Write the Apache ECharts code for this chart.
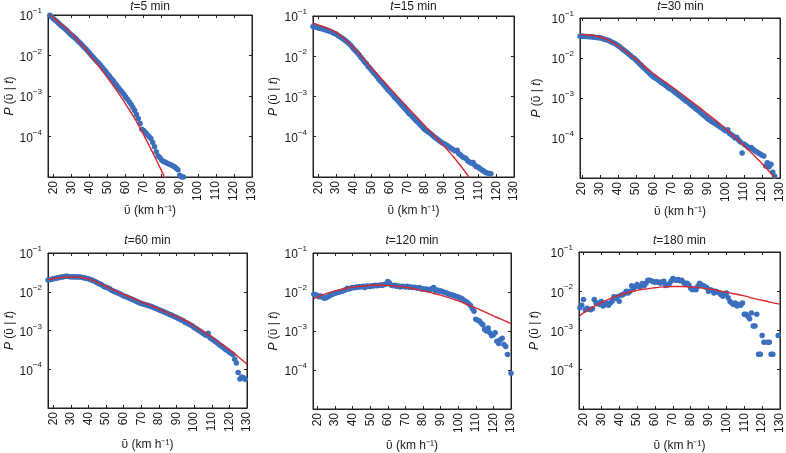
<!DOCTYPE html>
<html><head><meta charset="utf-8">
<script src="https://cdn.jsdelivr.net/npm/echarts@6/dist/echarts.min.js"></script>
<style>html,body{margin:0;padding:0;background:#fff}#c{width:786px;height:453px}</style>
</head><body><div id="c"></div>
<script>
// ---------- data ----------
const titles = ['5', '15', '30', '60', '120', '180'];
const xTicks = [20, 30, 40, 50, 60, 70, 80, 90, 100, 110, 120, 130];
const yTicks = [1e-5, 1e-4, 1e-3, 1e-2, 1e-1];

// t = 5 min
const v5 = [18,19,20,21,22,23,24,25,26,27,28,29,30,31,32,33,34,35,36,37,38,39,40,41,42,43,44,45,46,47,48,49,50,51,52,53,54,55,56,57,58,59,60,61,62,63,64,65,66,67,68,69,70,71,72,73,74,75,76,77,78,79,80,81,82,83,84,85,86,87,88,89,90,91,92];
const p5 = [9.8e-2,8.9e-2,8.1e-2,7.4e-2,6.8e-2,6.2e-2,5.6e-2,5.1e-2,4.7e-2,4.3e-2,3.9e-2,3.5e-2,3.2e-2,2.95e-2,2.7e-2,2.45e-2,2.2e-2,2.0e-2,1.8e-2,1.6e-2,1.45e-2,1.3e-2,1.15e-2,1.02e-2,9.1e-3,8.1e-3,7.2e-3,6.5e-3,5.8e-3,5.1e-3,4.5e-3,4.0e-3,3.5e-3,3.1e-3,2.7e-3,2.4e-3,2.1e-3,1.85e-3,1.6e-3,1.4e-3,1.25e-3,1.1e-3,9.5e-4,8.3e-4,7.2e-4,6.3e-4,5.2e-4,4.4e-4,3.5e-4,2.8e-4,2.1e-4,1.5e-4,1.4e-4,1.25e-4,1.1e-4,1.0e-4,8.9e-5,7.1e-5,5.6e-5,4.2e-5,3.3e-5,3.0e-5,2.6e-5,2.4e-5,2.3e-5,2.2e-5,2.1e-5,2.0e-5,1.9e-5,1.8e-5,1.65e-5,1.5e-5,1.1e-5,1.0e-5,1.0e-5];
const fv5 = [18,20,25,30,35,40,45,50,55,60,65,70,75,80,82];
const fp5 = [1.0e-1,8.6e-2,5.6e-2,3.5e-2,2.0e-2,1.05e-2,5.6e-3,2.8e-3,1.38e-3,6.3e-4,2.8e-4,1.1e-4,4.0e-5,1.4e-5,8.9e-6];

// t = 15 min
const v15 = [17,18,19,20,21,22,23,24,25,26,27,28,29,30,31,32,33,34,35,36,37,38,39,40,41,42,43,44,45,46,47,48,49,50,51,52,53,54,55,56,57,58,59,60,61,62,63,64,65,66,67,68,69,70,71,72,73,74,75,76,77,78,79,80,81,82,83,84,85,86,87,88,89,90,91,92,93,94,95,96,97,98,99,100,101,102,103,104,105,106,107,108,109,110,111,112,113,114,115,116,117];
const p15 = [5.5e-2,5.4e-2,5.25e-2,5.0e-2,4.9e-2,4.8e-2,4.7e-2,4.5e-2,4.4e-2,4.2e-2,4.1e-2,3.9e-2,3.7e-2,3.55e-2,3.3e-2,3.1e-2,2.9e-2,2.7e-2,2.5e-2,2.3e-2,2.1e-2,1.9e-2,1.7e-2,1.5e-2,1.35e-2,1.2e-2,1.07e-2,9.3e-3,8.3e-3,7.2e-3,6.5e-3,5.6e-3,5.0e-3,4.4e-3,3.9e-3,3.5e-3,3.1e-3,2.7e-3,2.4e-3,2.15e-3,1.9e-3,1.7e-3,1.5e-3,1.35e-3,1.2e-3,1.07e-3,9.5e-4,8.5e-4,7.6e-4,6.8e-4,6.0e-4,5.4e-4,4.8e-4,4.3e-4,3.8e-4,3.5e-4,3.1e-4,2.8e-4,2.5e-4,2.3e-4,2.05e-4,1.85e-4,1.65e-4,1.5e-4,1.4e-4,1.3e-4,1.2e-4,1.1e-4,1.0e-4,9.3e-5,8.7e-5,7.9e-5,7.4e-5,6.9e-5,6.6e-5,6.2e-5,5.8e-5,5.4e-5,5.0e-5,4.7e-5,4.4e-5,4.6e-5,3.8e-5,3.5e-5,3.2e-5,3.0e-5,2.9e-5,2.5e-5,2.35e-5,2.2e-5,2.3e-5,1.95e-5,1.8e-5,1.75e-5,1.6e-5,1.5e-5,1.4e-5,1.3e-5,1.25e-5,1.23e-5,1.2e-5];
const fv15 = [17,20,25,30,35,40,45,50,55,60,65,70,75,80,85,90,95,100,105];
const fp15 = [6.6e-2,6.0e-2,5.0e-2,3.9e-2,2.6e-2,1.6e-2,9.1e-3,5.1e-3,2.9e-3,1.66e-3,9.5e-4,5.5e-4,3.2e-4,1.86e-4,1.07e-4,6.3e-5,3.55e-5,1.9e-5,9.5e-6];

// t = 30 min
const v30 = [19,20,21,22,23,24,25,26,27,28,29,30,31,32,33,34,35,36,37,38,39,40,41,42,43,44,45,46,47,48,49,50,51,52,53,54,55,56,57,58,59,60,61,62,63,64,65,66,67,68,69,70,71,72,73,74,75,76,77,78,79,80,81,82,83,84,85,86,87,88,89,90,91,92,93,94,95,96,97,98,99,100,101,102,103,104,105,106,107,108,109,110,111,112,113,114,115,116,117,118,119,120,121,122,123,124,125,126,127];
const p30 = [3.5e-2,3.5e-2,3.5e-2,3.45e-2,3.45e-2,3.4e-2,3.4e-2,3.35e-2,3.3e-2,3.25e-2,3.2e-2,3.2e-2,3.1e-2,3.0e-2,2.9e-2,2.8e-2,2.75e-2,2.6e-2,2.45e-2,2.35e-2,2.2e-2,2.05e-2,1.9e-2,1.75e-2,1.6e-2,1.5e-2,1.38e-2,1.26e-2,1.15e-2,1.05e-2,9.8e-3,8.9e-3,8.1e-3,7.2e-3,6.6e-3,5.9e-3,5.4e-3,4.9e-3,4.4e-3,4.0e-3,3.6e-3,3.3e-3,3.1e-3,2.9e-3,2.7e-3,2.45e-3,2.3e-3,2.15e-3,2.0e-3,1.8e-3,1.7e-3,1.6e-3,1.48e-3,1.35e-3,1.26e-3,1.15e-3,1.07e-3,9.8e-4,9.1e-4,8.3e-4,7.8e-4,7.1e-4,6.5e-4,6.0e-4,5.5e-4,5.1e-4,4.7e-4,4.3e-4,3.9e-4,3.6e-4,3.3e-4,3.0e-4,2.8e-4,2.6e-4,2.45e-4,2.3e-4,2.15e-4,2.0e-4,1.85e-4,1.75e-4,1.6e-4,1.5e-4,1.6e-4,1.3e-4,1.2e-4,1.12e-4,1.0e-4,1.05e-4,8.9e-5,7.9e-5,4.2e-5,7.1e-5,6.6e-5,6.0e-5,5.6e-5,5.75e-5,5.2e-5,4.8e-5,4.5e-5,4.2e-5,4.0e-5,3.7e-5,3.55e-5,2.0e-5,2.4e-5,1.9e-5,2.2e-5,1.4e-5,1.1e-5];
const fv30 = [19,25,30,35,40,45,50,55,60,65,70,75,80,85,90,95,100,105,110,115,120,125,127];
const fp30 = [3.9e-2,3.7e-2,3.4e-2,2.75e-2,2.05e-2,1.4e-2,9.3e-3,6.0e-3,4.0e-3,2.75e-3,1.9e-3,1.3e-3,8.7e-4,5.9e-4,3.9e-4,2.6e-4,1.66e-4,1.05e-4,6.5e-5,3.9e-5,2.3e-5,1.3e-5,1.02e-5];

// t = 60 min
const v60 = [17,18,19,20,21,22,23,24,25,26,27,28,29,30,31,32,33,34,35,36,37,38,39,40,41,42,43,44,45,46,47,48,49,50,51,52,53,54,55,56,57,58,59,60,61,62,63,64,65,66,67,68,69,70,71,72,73,74,75,76,77,78,79,80,81,82,83,84,85,86,87,88,89,90,91,92,93,94,95,96,97,98,99,100,101,102,103,104,105,106,107,108,109,110,111,112,113,114,115,116,117,118,119,120,121,122,123,124,125,126,127,128,129];
const p60 = [2.0e-2,2.05e-2,2.1e-2,2.15e-2,2.2e-2,2.25e-2,2.3e-2,2.35e-2,2.4e-2,2.45e-2,2.5e-2,2.5e-2,2.45e-2,2.45e-2,2.4e-2,2.45e-2,2.4e-2,2.4e-2,2.4e-2,2.35e-2,2.3e-2,2.25e-2,2.2e-2,2.15e-2,2.05e-2,2.0e-2,1.9e-2,1.8e-2,1.7e-2,1.6e-2,1.55e-2,1.45e-2,1.35e-2,1.3e-2,1.25e-2,1.2e-2,1.1e-2,1.05e-2,1.0e-2,9.6e-3,9.2e-3,8.7e-3,8.2e-3,7.8e-3,7.5e-3,7.2e-3,6.9e-3,6.6e-3,6.3e-3,6.0e-3,5.7e-3,5.4e-3,5.2e-3,5.0e-3,4.85e-3,4.7e-3,4.55e-3,4.4e-3,4.25e-3,4.1e-3,3.9e-3,3.75e-3,3.6e-3,3.45e-3,3.3e-3,3.15e-3,3.0e-3,2.85e-3,2.75e-3,2.6e-3,2.5e-3,2.35e-3,2.25e-3,2.15e-3,2.05e-3,1.95e-3,1.85e-3,1.75e-3,1.62e-3,1.55e-3,1.45e-3,1.38e-3,1.3e-3,1.2e-3,1.12e-3,1.05e-3,9.8e-4,9.1e-4,8.5e-4,7.9e-4,7.4e-4,8.5e-4,6.5e-4,6.0e-4,5.6e-4,5.2e-4,4.8e-4,4.4e-4,4.1e-4,3.8e-4,3.5e-4,3.2e-4,3.0e-4,2.75e-4,2.6e-4,2.4e-4,1.8e-4,1.45e-4,8.3e-5,5.6e-5,6.3e-5,6.0e-5,5.5e-5];
const fv60 = [17,20,25,30,35,40,45,50,55,60,65,70,75,80,85,90,95,100,105,110,115,120,125,130];
const fp60 = [2.05e-2,2.2e-2,2.35e-2,2.4e-2,2.35e-2,2.15e-2,1.75e-2,1.38e-2,1.07e-2,8.5e-3,6.9e-3,5.5e-3,4.45e-3,3.6e-3,2.9e-3,2.3e-3,1.8e-3,1.32e-3,9.5e-4,6.8e-4,4.7e-4,3.2e-4,2.1e-4,1.35e-4];

// t = 120 min
const v120 = [18,19,20,21,22,23,24,25,26,27,28,29,30,31,32,33,34,35,36,37,38,39,40,41,42,43,44,45,46,47,48,49,50,51,52,53,54,55,56,57,58,59,60,61,62,63,64,65,66,67,68,69,70,71,72,73,74,75,76,77,78,79,80,81,82,83,84,85,86,87,88,89,90,91,92,93,94,95,96,97,98,99,100,101,102,103,104,105,106,107,108,109,110,111,112,113,114,115,116,117,118,119,120,121,122,123,124,125,126,127,128,130];
const p120 = [8.7e-3,8.5e-3,8.1e-3,7.6e-3,7.9e-3,7.2e-3,6.9e-3,7.1e-3,7.6e-3,8.1e-3,8.5e-3,8.9e-3,9.3e-3,9.6e-3,9.9e-3,1.02e-2,1.05e-2,1.1e-2,1.15e-2,1.25e-2,1.2e-2,1.25e-2,1.3e-2,1.28e-2,1.35e-2,1.32e-2,1.38e-2,1.35e-2,1.4e-2,1.3e-2,1.42e-2,1.4e-2,1.38e-2,1.45e-2,1.42e-2,1.5e-2,1.45e-2,1.5e-2,1.52e-2,1.48e-2,1.55e-2,1.6e-2,1.85e-2,1.7e-2,1.5e-2,1.45e-2,1.5e-2,1.4e-2,1.42e-2,1.35e-2,1.4e-2,1.38e-2,1.35e-2,1.4e-2,1.32e-2,1.35e-2,1.3e-2,1.32e-2,1.28e-2,1.25e-2,1.3e-2,1.2e-2,1.22e-2,1.18e-2,1.2e-2,1.15e-2,1.18e-2,1.2e-2,1.3e-2,1.1e-2,1.12e-2,1.05e-2,1.08e-2,1.02e-2,9.8e-3,9.5e-3,9.2e-3,8.8e-3,8.5e-3,8.2e-3,8.0e-3,7.6e-3,7.4e-3,7.0e-3,6.8e-3,6.2e-3,5.8e-3,5.5e-3,5.0e-3,4.5e-3,3.8e-3,3.2e-3,2.0e-3,1.9e-3,1.8e-3,1.6e-3,1.45e-3,1.1e-3,1.0e-3,1.2e-3,9.0e-4,7.5e-4,8.0e-4,9.0e-4,5.5e-4,4.8e-4,6.0e-4,6.5e-4,4.5e-4,4.0e-4,2.5e-4,8.2e-5];
const fv120 = [18,20,25,30,35,40,45,50,55,60,65,70,75,80,85,90,95,100,105,110,115,120,125,130];
const fp120 = [6.8e-3,7.4e-3,9.1e-3,1.07e-2,1.2e-2,1.32e-2,1.41e-2,1.48e-2,1.51e-2,1.48e-2,1.41e-2,1.32e-2,1.2e-2,1.07e-2,9.5e-3,8.3e-3,7.1e-3,5.9e-3,4.8e-3,3.9e-3,3.1e-3,2.45e-3,1.95e-3,1.55e-3];

// t = 180 min
const v180 = [18,19,20,21,22,23,24,25,26,27,28,29,30,31,32,33,34,35,36,37,38,39,40,41,42,43,44,45,46,47,48,49,50,51,52,53,54,55,56,57,58,59,60,61,62,63,64,65,66,67,68,69,70,71,72,73,74,75,76,77,78,79,80,81,82,83,84,85,86,87,88,89,90,91,92,93,94,95,96,97,98,99,100,101,102,103,104,105,106,107,108,109,110,111,112,113,114,115,116,117,118,119,120,121,123,124,125,126,129];
const p180 = [3.8e-3,4.4e-3,6.2e-3,3.4e-3,3.7e-3,3.5e-3,3.4e-3,3.6e-3,6.2e-3,5.0e-3,5.0e-3,4.6e-3,5.5e-3,4.2e-3,4.6e-3,4.9e-3,4.4e-3,5.0e-3,5.6e-3,7.2e-3,6.5e-3,7.2e-3,5.6e-3,7.9e-3,8.1e-3,8.7e-3,1.0e-2,9.0e-3,1.0e-2,1.38e-2,1.2e-2,1.32e-2,1.48e-2,1.3e-2,1.35e-2,1.58e-2,1.41e-2,1.6e-2,1.9e-2,1.9e-2,1.85e-2,1.75e-2,1.7e-2,1.75e-2,1.7e-2,1.6e-2,1.75e-2,1.8e-2,1.4e-2,1.45e-2,1.55e-2,1.8e-2,2.1e-2,1.95e-2,1.9e-2,2.0e-2,1.85e-2,1.9e-2,1.7e-2,1.5e-2,1.6e-2,1.45e-2,1.2e-2,1.1e-2,1.15e-2,1.1e-2,1.35e-2,1.6e-2,1.45e-2,1.4e-2,1.3e-2,1.25e-2,1.0e-2,1.1e-2,1.05e-2,9.0e-3,1.0e-2,9.5e-3,9.0e-3,8.1e-3,7.5e-3,8.5e-3,9.0e-3,6.8e-3,5.5e-3,5.0e-3,4.6e-3,5.0e-3,4.2e-3,4.6e-3,4.4e-3,5.0e-3,2.6e-3,2.6e-3,2.3e-3,2.0e-3,2.8e-3,1.3e-3,1.3e-3,2.6e-3,2.5e-4,2.5e-4,7.5e-4,5.0e-4,5.0e-4,5.0e-4,2.5e-4,2.5e-4,7.5e-4];
const fv180 = [18,20,25,30,35,40,45,50,55,60,65,70,75,80,85,90,95,100,105,110,115,120,125,130];
const fp180 = [2.4e-3,2.8e-3,3.9e-3,5.1e-3,6.5e-3,7.9e-3,9.3e-3,1.05e-2,1.15e-2,1.23e-2,1.29e-2,1.32e-2,1.32e-2,1.29e-2,1.23e-2,1.15e-2,1.05e-2,9.5e-3,8.5e-3,7.6e-3,6.6e-3,5.9e-3,5.2e-3,4.7e-3];

// ---------- layout ----------
const layout = [
  {left:48,  top:15,  width:204, height:162, xmin:17,   nameGapY:32, nameGapX:26, titleTop:1},
  {left:313, top:16,  width:201, height:161, xmin:17,   nameGapY:33, nameGapX:26, titleTop:1},
  {left:580, top:18,  width:201, height:160, xmin:19,   nameGapY:37, nameGapX:26, titleTop:1},
  {left:48,  top:253, width:199, height:155, xmin:17,   nameGapY:32, nameGapX:31, titleTop:235},
  {left:313, top:253, width:198, height:156, xmin:17.5, nameGapY:33, nameGapX:31, titleTop:235},
  {left:579, top:252, width:201, height:157, xmin:17.5, nameGapY:38, nameGapX:31, titleTop:235}
];
const scatterX = [v5, v15, v30, v60, v120, v180];
const scatterY = [p5, p15, p30, p60, p120, p180];
const fitX = [fv5, fv15, fv30, fv60, fv120, fv180];
const fitY = [fp5, fp15, fp30, fp60, fp120, fp180];

const FONT = '"Liberation Sans", Arial, sans-serif';
const TXT = '#1a1a1a';
const BLUE = '#3a6fbd';
const RED = '#d8282c';
function fmtLog(v){
  const e = Math.round(Math.log10(v));
  if (e <= -5) return '';
  return '{b|10}{s|\u2212' + (-e) + '}';
}

const option = {animation:false, backgroundColor:'#fff', title:[], grid:[], xAxis:[], yAxis:[], series:[]};
layout.forEach((L, i) => {
  option.grid.push({left:L.left, top:L.top, width:L.width, height:L.height, show:true,
    borderColor:'#222', borderWidth:1, backgroundColor:'transparent'});
  option.title.push({
    text:'{i|t}=' + titles[i] + ' min',
    left: L.left + L.width/2, top: L.titleTop, textAlign:'center', padding:0,
    textStyle:{fontFamily:FONT, fontSize:12, fontWeight:'normal', color:TXT,
      rich:{i:{fontFamily:FONT, fontSize:12, fontStyle:'italic', color:TXT}}}
  });
  const xBase = {gridIndex:i, type:'value', min:L.xmin, max:130,
    axisLine:{show:true, lineStyle:{color:'#222', width:1}},
    splitLine:{show:false}};
  option.xAxis.push(Object.assign({}, xBase, {
    position:'bottom',
    axisTick:{show:true, inside:true, length:3, customValues:xTicks, lineStyle:{color:'#222'}},
    axisLabel:{show:true, rotate:90, margin:4, customValues:xTicks, fontFamily:FONT, fontSize:12, color:TXT},
    name:'\u1FE1 (km h\u207B\u00B9)', nameLocation:'middle', nameGap:L.nameGapX,
    nameTextStyle:{fontFamily:FONT, fontSize:12, color:TXT}
  }));
  option.xAxis.push(Object.assign({}, xBase, {
    position:'top',
    axisTick:{show:true, inside:true, length:3, customValues:xTicks, lineStyle:{color:'#222'}},
    axisLabel:{show:false}
  }));
  const yBase = {gridIndex:i, type:'log', logBase:10, min:1e-5, max:1e-1,
    axisLine:{show:true, lineStyle:{color:'#222', width:1}},
    splitLine:{show:false}, minorTick:{show:false}};
  option.yAxis.push(Object.assign({}, yBase, {
    position:'left',
    axisTick:{show:true, inside:true, length:3, lineStyle:{color:'#222'}},
    axisLabel:{show:true, margin:6, formatter:fmtLog, color:TXT,
      rich:{
        b:{fontFamily:FONT, fontSize:12, color:TXT, verticalAlign:'bottom', lineHeight:16},
        s:{fontFamily:FONT, fontSize:8, color:TXT, verticalAlign:'top', lineHeight:10}
      }},
    name:'{i|P} (\u1FE1 | {i|t})', nameLocation:'middle', nameGap:L.nameGapY, nameRotate:90,
    nameTextStyle:{fontFamily:FONT, fontSize:12, color:TXT,
      rich:{i:{fontFamily:FONT, fontSize:12, fontStyle:'italic', color:TXT}}}
  }));
  option.yAxis.push(Object.assign({}, yBase, {
    position:'right',
    axisTick:{show:true, inside:true, length:3, lineStyle:{color:'#222'}},
    axisLabel:{show:false}
  }));
  option.series.push({
    type:'scatter', xAxisIndex:2*i, yAxisIndex:2*i, symbol:'circle', symbolSize:5.5,
    itemStyle:{color:BLUE, opacity:1}, z:2,
    data: scatterX[i].map((x, k) => [x, scatterY[i][k]])
  });
  option.series.push({
    type:'line', xAxisIndex:2*i, yAxisIndex:2*i, smooth:true, showSymbol:false, symbol:'none',
    lineStyle:{color:RED, width:1.4}, z:3, clip:true,
    data: fitX[i].map((x, k) => [x, fitY[i][k]])
  });
});

const chart = echarts.init(document.getElementById('c'), null, {renderer:'canvas'});
chart.setOption(option);
</script>
</body></html>
